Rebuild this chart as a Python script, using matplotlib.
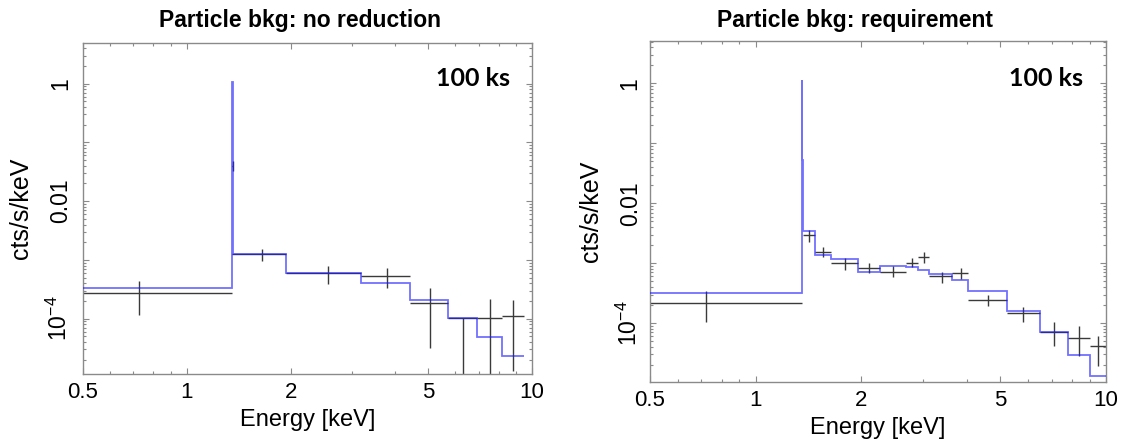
import matplotlib
matplotlib.use("Agg")
import matplotlib.pyplot as plt
from matplotlib.ticker import FixedLocator, FixedFormatter, NullFormatter

plt.rcParams['font.family'] = ['Liberation Sans', 'DejaVu Sans']
plt.rcParams['mathtext.fontset'] = 'custom'
plt.rcParams['mathtext.rm'] = 'Liberation Sans'
plt.rcParams['mathtext.it'] = 'Liberation Sans:italic'
plt.rcParams['mathtext.bf'] = 'Liberation Sans:bold'

# ---------------- data: left panel (no reduction) ----------------
left_model_edges = [0.5, 1.355, 1.357, 1.362, 1.943, 3.19, 4.44, 5.70, 6.91, 8.18, 9.46]
left_model_vals = [3.34e-4, 1.07, 0.29, 1.27e-3, 5.93e-4, 4.07e-4, 2.09e-4, 1.03e-4, 4.79e-5, 2.29e-5]

left_x = [0.725, 1.356, 1.65, 2.56, 3.80, 5.07, 6.29, 7.58, 8.79]
left_xlo = [0.5, 1.355, 1.355, 1.943, 3.19, 4.44, 5.70, 6.91, 8.18]
left_xhi = [1.355, 1.357, 1.943, 3.19, 4.44, 5.70, 6.91, 8.18, 9.46]
left_y = [2.73e-4, 0.04, 1.27e-3, 5.93e-4, 5.33e-4, 1.87e-4, 1.03e-4, 1.03e-4, 1.10e-4]
left_ylo = [1.14e-4, 0.033, 9.7e-4, 3.92e-4, 3.34e-4, 3.2e-5, 1e-6, 1e-6, 1.26e-5]
left_yhi = [4.37e-4, 0.049, 1.55e-3, 7.96e-4, 7.24e-4, 3.34e-4, 1.03e-4, 2.17e-4, 2.09e-4]

# ---------------- data: right panel (requirement) ----------------
right_model_edges = [0.5, 1.355, 1.357, 1.362, 1.475, 1.64, 1.955, 2.27, 2.68, 2.91,
                     3.13, 3.63, 4.05, 5.21, 6.48, 7.78, 9.0, 10.0]
right_model_vals = [3.24e-4, 1.14, 0.053, 3.49e-3, 1.37e-3, 1.16e-3, 7.26e-4, 8.8e-4,
                    8.5e-4, 7.74e-4, 6.56e-4, 5.27e-4, 3.37e-4, 1.6e-4, 6.97e-5, 2.97e-5, 1.29e-5]

right_x = [0.724, 1.424, 1.56, 1.80, 2.11, 2.47, 2.79, 3.03, 3.40, 3.86, 4.61, 5.81, 7.11, 8.4, 9.5]
right_xlo = [0.5, 1.362, 1.475, 1.64, 1.955, 2.27, 2.68, 2.91, 3.13, 3.63, 4.05, 5.21, 6.48, 7.78, 9.0]
right_xhi = [1.355, 1.475, 1.64, 1.955, 2.27, 2.68, 2.91, 3.13, 3.63, 4.05, 5.21, 6.48, 7.78, 9.0, 10.0]
right_y = [2.2e-4, 2.96e-3, 1.56e-3, 1.0e-3, 8.26e-4, 7.26e-4, 1.02e-3, 1.26e-3, 6.0e-4,
           6.8e-4, 2.45e-4, 1.5e-4, 7.24e-5, 5.62e-5, 4.08e-5]
right_ylo = [1.03e-4, 2.27e-3, 1.29e-3, 7.74e-4, 6.8e-4, 5.9e-4, 8.5e-4, 1.02e-3, 4.75e-4,
             5.4e-4, 1.94e-4, 1.06e-4, 4.19e-5, 2.78e-5, 1.9e-5]
right_yhi = [3.37e-4, 3.6e-3, 1.87e-3, 1.21e-3, 1.02e-3, 8.8e-4, 1.24e-3, 1.56e-3, 7.24e-4,
             8.26e-4, 3.0e-4, 1.89e-4, 1.06e-4, 8.8e-5, 6.15e-5]

titles = ["Particle bkg: no reduction", "Particle bkg: requirement"]
exposure_label = "100 ks"
x_major = [0.5, 1, 2, 5, 10]
x_major_labels = ["0.5", "1", "2", "5", "10"]
x_minor = [0.6, 0.7, 0.8, 0.9, 3, 4, 6, 7, 8, 9]
y_major = [1e-5, 1e-4, 1e-3, 1e-2, 1e-1, 1]
y_major_labels = ["", r"$\mathregular{10^{-4}}$", "", "0.01", "", "1"]
y_minor = [m * 10.0 ** k for k in range(-5, 1) for m in range(2, 10)]

fig = plt.figure(figsize=(11.28, 4.45), dpi=100)
W, H = 1128, 445
ax_l = fig.add_axes([83 / W, 1 - 374 / H, 449 / W, 331 / H])
ax_r = fig.add_axes([650 / W, 1 - 382 / H, 456 / W, 341 / H])

model_color = '#1a1aff'
data_color = '#3a3a3a'
spine_gray = '#8a8a8a'


def draw(ax, edges, vals, x, xlo, xhi, y, ylo, yhi, ylim, ylab_x, txt_y, ypad):
    xerr = [[a - b for a, b in zip(x, xlo)], [b - a for a, b in zip(x, xhi)]]
    yerr = [[a - b for a, b in zip(y, ylo)], [b - a for a, b in zip(y, yhi)]]
    ax.errorbar(x, y, xerr=xerr, yerr=yerr, fmt='none', ecolor=data_color,
                elinewidth=1.0, capsize=0, zorder=2)
    ax.stairs(vals, edges, baseline=None, color=model_color, alpha=0.62,
              linewidth=1.3, zorder=3)
    ax.set_xscale('log')
    ax.set_yscale('log')
    ax.set_xlim(0.5, 10)
    ax.set_ylim(*ylim)
    ax.xaxis.set_major_locator(FixedLocator(x_major))
    ax.xaxis.set_major_formatter(FixedFormatter(x_major_labels))
    ax.xaxis.set_minor_locator(FixedLocator(x_minor))
    ax.xaxis.set_minor_formatter(NullFormatter())
    ax.yaxis.set_major_locator(FixedLocator(y_major))
    ax.yaxis.set_major_formatter(FixedFormatter(y_major_labels))
    ax.yaxis.set_minor_locator(FixedLocator(y_minor))
    ax.yaxis.set_minor_formatter(NullFormatter())
    for s in ax.spines.values():
        s.set_color(spine_gray)
        s.set_linewidth(1.0)
    ax.tick_params(which='both', direction='in', top=True, right=True,
                   color=spine_gray, width=0.8)
    ax.tick_params(which='major', length=4.5)
    ax.tick_params(which='minor', length=2.2)
    ax.tick_params(axis='x', labelsize=16, pad=6)
    ax.tick_params(axis='y', labelsize=16.5, pad=ypad)
    for lbl in ax.get_yticklabels():
        lbl.set_rotation(90)
        lbl.set_va('center')
        lbl.set_ha('right')
    ax.set_xlabel("Energy [keV]", fontsize=17, labelpad=4)
    ax.set_ylabel("cts/s/keV", fontsize=18)
    ax.yaxis.set_label_coords(ylab_x, 0.5)
    ax.text(0.95, txt_y, exposure_label, transform=ax.transAxes, ha='right',
            va='baseline', fontsize=18, fontweight='bold', family='Lato')


draw(ax_l, left_model_edges, left_model_vals, left_x, left_xlo, left_xhi,
     left_y, left_ylo, left_yhi, (1.14e-5, 4.93), -0.111, 0.870, 8)
draw(ax_r, right_model_edges, right_model_vals, right_x, right_xlo, right_xhi,
     right_y, right_ylo, right_yhi, (1.04e-5, 5.1), -0.103, 0.868, 6)

fig.text(300 / W, 1 - 20 / H, titles[0], ha='center', va='center',
         fontsize=16.5, fontweight='bold')
fig.text(855 / W, 1 - 20 / H, titles[1], ha='center', va='center',
         fontsize=16.5, fontweight='bold')

fig.savefig("out.png", dpi=100)
